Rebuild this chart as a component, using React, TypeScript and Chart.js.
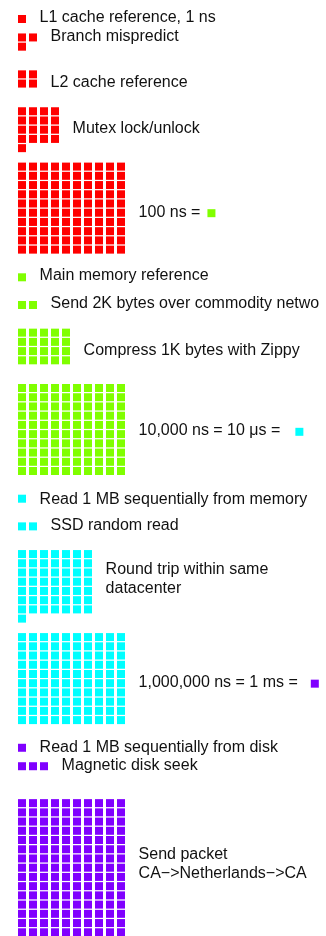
import React, { useEffect, useRef } from 'react';
import { Chart, registerables } from 'chart.js';

Chart.register(...registerables);

// ---------- data ----------
const itemLabels = [
  'L1 cache reference, 1 ns',
  'Branch mispredict',
  'L2 cache reference',
  'Mutex lock/unlock',
  '100 ns =',
  'Main memory reference',
  'Send 2K bytes over commodity network',
  'Compress 1K bytes with Zippy',
  '10,000 ns = 10 \u03bcs =',
  'Read 1 MB sequentially from memory',
  'SSD random read',
  'Round trip within same\ndatacenter',
  '1,000,000 ns = 1 ms =',
  'Read 1 MB sequentially from disk',
  'Magnetic disk seek',
  'Send packet\nCA\u2212>Netherlands\u2212>CA',
];
const itemLatencyNs = [1, 3, 4, 17, 100, 100, 200, 2000, 10000, 10000, 20000, 500000, 1000000, 1000000, 3000000, 150000000];
const itemUnit = [0, 0, 0, 0, 0, 1, 1, 1, 1, 2, 2, 2, 2, 3, 3, 3];
const unitNs = [1, 100, 10000, 1000000];
const unitColors = ['#FF0000', '#80FF00', '#00FFFF', '#8000FF'];
// scale items introduce the square of the next unit
const itemMarkerUnit = [-1, -1, -1, -1, 1, -1, -1, -1, 2, -1, -1, -1, 3, -1, -1, -1];

// ---------- layout ----------
const blockCols = [1, 2, 2, 4, 10, 1, 2, 5, 10, 1, 2, 7, 10, 1, 3, 10];
const blockStartRow = [0, 2, 6, 10, 16, 28, 31, 34, 40, 52, 55, 58, 67, 79, 81, 85];
const labelRow = [-0.25, 1.75, 6.75, 11.75, 20.8, 27.7, 30.75, 35.8, 44.5, 51.9, 54.8, 60.55, 71.8, 78.8, 80.8, 91.5];
const markerGapPx = [0, 0, 0, 0, 7, 0, 0, 0, 15, 0, 0, 0, 13, 0, 0, 0];

const W = 326;
const H = 936;
const COL_PX = 11;
const ROW_PX = 9.225;
const X_MIN = -2;
const Y_MIN = -19 / ROW_PX;
const SQUARE = 8;
const FONT_SIZE = 16;
const FONT = `${FONT_SIZE}px "Liberation Sans", Arial, Helvetica, sans-serif`;
const LINE_H = 18.7;
const TEXT_OFFSET = 6.6;
const TEXT_CLIP_X = 320;

const colToPx = (c: number) => (c - X_MIN) * COL_PX;
const pxToCol = (px: number) => X_MIN + px / COL_PX;

export default function App() {
  const ref = useRef<HTMLCanvasElement | null>(null);

  useEffect(() => {
    document.body.style.margin = '0';
    const canvas = ref.current;
    if (!canvas) return;

    const measureCtx = document.createElement('canvas').getContext('2d')!;
    measureCtx.font = FONT;

    const pointsByUnit: { x: number; y: number }[][] = unitNs.map(() => []);
    itemLatencyNs.forEach((ns, i) => {
      const u = itemUnit[i];
      const n = Math.round(ns / unitNs[u]);
      const cols = blockCols[i];
      for (let k = 0; k < n; k++) {
        pointsByUnit[u].push({ x: k % cols, y: blockStartRow[i] + Math.floor(k / cols) });
      }
      const mu = itemMarkerUnit[i];
      if (mu >= 0) {
        const textX = colToPx(cols) + TEXT_OFFSET;
        const w = measureCtx.measureText(itemLabels[i]).width;
        const leftPx = textX + w + markerGapPx[i];
        pointsByUnit[mu].push({ x: pxToCol(leftPx + SQUARE / 2), y: labelRow[i] + 0.25 });
      }
    });

    const labelPlugin = {
      id: 'labels',
      afterDatasetsDraw(chart: any) {
        const ctx = chart.ctx;
        const xs = chart.scales.x;
        const ys = chart.scales.y;
        ctx.save();
        ctx.beginPath();
        ctx.rect(0, 0, TEXT_CLIP_X, H);
        ctx.clip();
        ctx.font = FONT;
        ctx.fillStyle = '#111111';
        ctx.textAlign = 'left';
        ctx.textBaseline = 'alphabetic';
        const capH = FONT_SIZE * 0.716;
        itemLabels.forEach((label, i) => {
          const lines = label.split('\n');
          const x = xs.getPixelForValue(blockCols[i]) + TEXT_OFFSET;
          const cy = ys.getPixelForValue(labelRow[i]);
          lines.forEach((line, j) => {
            const mid = cy - ((lines.length - 1) * LINE_H) / 2 + j * LINE_H;
            ctx.fillText(line, x, mid + capH / 2);
          });
        });
        ctx.restore();
      },
    };

    const chart = new Chart(canvas, {
      type: 'scatter',
      data: {
        datasets: unitNs.map((u, k) => ({
          label: `${u} ns`,
          data: pointsByUnit[k],
          backgroundColor: unitColors[k],
          borderColor: unitColors[k],
          pointStyle: 'rect',
          pointRadius: SQUARE / Math.SQRT2,
          pointBorderWidth: 0,
          borderWidth: 0,
          pointHoverRadius: SQUARE / Math.SQRT2,
          clip: false,
        })),
      },
      options: {
        responsive: false,
        animation: false,
        events: [],
        devicePixelRatio: 1,
        layout: { padding: 0, autoPadding: false },
        plugins: {
          legend: { display: false },
          tooltip: { enabled: false },
          title: { display: false },
        },
        scales: {
          x: { type: 'linear', display: false, min: X_MIN, max: X_MIN + W / COL_PX },
          y: { type: 'linear', display: false, reverse: true, min: Y_MIN, max: Y_MIN + H / ROW_PX },
        },
      },
      plugins: [labelPlugin],
    } as any);

    return () => chart.destroy();
  }, []);

  return (
    <div style={{ width: W, height: H, background: '#fff' }}>
      <canvas ref={ref} width={W} height={H} style={{ display: 'block', width: W, height: H }} />
    </div>
  );
}
